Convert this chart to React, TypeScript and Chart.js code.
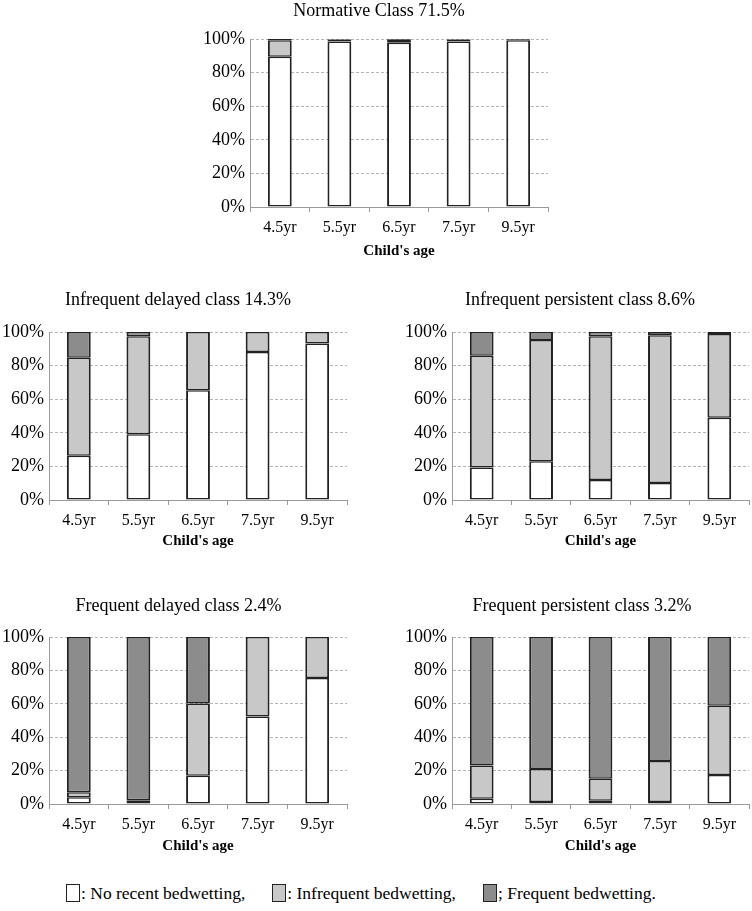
import React, { useEffect, useRef } from "react";
import { Chart, registerables } from "chart.js";

Chart.register(...registerables);
Chart.defaults.font.family = "'Liberation Serif', 'Times New Roman', serif";

// ---------- data ----------
const AGES = ["4.5yr", "5.5yr", "6.5yr", "7.5yr", "9.5yr"];
const Y_TICKS = [0, 20, 40, 60, 80, 100];
const X_TITLE = "Child's age";
const SERIES_NAMES = ["No recent bedwetting", "Infrequent bedwetting", "Frequent bedwetting"];
const LEGEND_TEXTS = [": No recent bedwetting,", ": Infrequent bedwetting,", "; Frequent bedwetting."];

const NORMATIVE_TITLE = "Normative Class 71.5%";
const NORMATIVE_NONE = [89.5, 98.5, 97.8, 98.5, 99.3];
const NORMATIVE_INFREQ = [9.7, 1.2, 1.7, 1.2, 0.5];
const NORMATIVE_FREQ = [0.8, 0.3, 0.5, 0.3, 0.2];

const INF_DELAYED_TITLE = "Infrequent delayed class 14.3%";
const INF_DELAYED_NONE = [26.4, 39.2, 65.4, 88.1, 93.2];
const INF_DELAYED_INFREQ = [58.3, 58.2, 34.6, 11.9, 6.8];
const INF_DELAYED_FREQ = [15.3, 2.6, 0, 0, 0];

const INF_PERSIST_TITLE = "Infrequent persistent class 8.6%";
const INF_PERSIST_NONE = [19.3, 23.1, 11.9, 10.1, 48.9];
const INF_PERSIST_INFREQ = [66.6, 72.1, 85.5, 87.9, 49.9];
const INF_PERSIST_FREQ = [14.1, 4.8, 2.6, 2.0, 1.2];

const FREQ_DELAYED_TITLE = "Frequent delayed class 2.4%";
const FREQ_DELAYED_NONE = [4.0, 1.2, 16.9, 52.4, 75.5];
const FREQ_DELAYED_INFREQ = [3.0, 1.0, 43.3, 47.6, 24.5];
const FREQ_DELAYED_FREQ = [93.0, 97.8, 39.8, 0, 0];

const FREQ_PERSIST_TITLE = "Frequent persistent class 3.2%";
const FREQ_PERSIST_NONE = [3.2, 1.2, 2.0, 1.2, 17.3];
const FREQ_PERSIST_INFREQ = [19.9, 19.7, 13.1, 24.5, 41.5];
const FREQ_PERSIST_FREQ = [76.9, 79.1, 84.9, 74.3, 41.2];

// ---------- styles ----------
const FILLS = ["#ffffff", "#c8c8c8", "#8c8c8c"];
const EDGE = "#222222";
const AXIS = "#9a9a9a";
const GRID = "#b5b5b5";

type Geo = {
  T: number; H: number;
  x0: number; x1: number; y0: number; y1: number;
  tcx: number; tcy: number;
};

const TITLE_SIZE = 18;
const TITLE_LH = TITLE_SIZE * 1.2;
const Y_AXIS_W = 48;

function Panel({ title, values, geo }: { title: string; values: number[][]; geo: Geo }) {
  const ref = useRef<HTMLCanvasElement>(null);
  const L = geo.x0 - Y_AXIS_W;
  const extra = Math.max(0, 2 * geo.tcx - L - geo.x1);
  const W = geo.x1 + extra - L;
  useEffect(() => {
    const { T, H, y0, y1, tcy } = geo;
    const tPadTop = Math.max(0, tcy - T - TITLE_LH / 2);
    const tPadBottom = y0 - T - tPadTop - TITLE_LH;
    const xH = T + H - y1;
    const chart = new Chart(ref.current as HTMLCanvasElement, {
      type: "bar",
      data: {
        labels: AGES,
        datasets: values.map((v, i) => ({
          label: SERIES_NAMES[i],
          data: v,
          backgroundColor: FILLS[i],
          borderColor: EDGE,
          borderWidth: { left: 2, right: 2, top: 1.5, bottom: 1.5 },
          borderSkipped: false,
          categoryPercentage: 1,
          barPercentage: 0.4,
        })),
      },
      options: {
        responsive: false,
        animation: false,
        layout: { padding: 0 },
        plugins: {
          legend: { display: false },
          tooltip: { enabled: false },
          title: {
            display: true,
            text: title,
            color: "#000",
            font: { size: TITLE_SIZE, weight: "normal", lineHeight: 1.2 },
            padding: { top: tPadTop, bottom: tPadBottom },
          },
        },
        scales: {
          x: {
            stacked: true,
            grid: {
              display: true,
              drawOnChartArea: false,
              drawTicks: true,
              tickLength: 5,
              color: AXIS,
              offset: true,
            },
            border: { display: true, color: AXIS, width: 1 },
            ticks: { color: "#000", font: { size: 16 }, padding: 6 },
            title: {
              display: true,
              text: X_TITLE,
              color: "#000",
              font: { size: 15, weight: "bold", lineHeight: 1.2 },
              padding: 0,
            },
            afterFit: (s: any) => {
              s.height = xH;
            },
          },
          y: {
            stacked: true,
            min: 0,
            max: 100,
            grid: { color: GRID, drawTicks: false, lineWidth: 1 },
            border: { display: true, color: AXIS, width: 1, dash: [3, 2] },
            ticks: {
              color: "#000",
              font: { size: 18 },
              padding: 5,
              callback: (v: any) => v + "%",
            },
            afterBuildTicks: (s: any) => {
              s.ticks = Y_TICKS.map((v) => ({ value: v }));
            },
            afterFit: (s: any) => {
              s.width = Y_AXIS_W;
            },
          },
          spacer: {
            type: "linear",
            position: "right",
            display: true,
            grid: { display: false, drawTicks: false },
            border: { display: false },
            ticks: { display: false },
            afterFit: (s: any) => {
              s.width = extra;
            },
          },
        },
      } as any,
    });
    return () => chart.destroy();
  }, []);
  return (
    <canvas
      ref={ref}
      width={W}
      height={geo.H}
      style={{ position: "absolute", left: L, top: geo.T }}
    />
  );
}

const PANELS: { title: string; values: number[][]; geo: Geo }[] = [
  {
    title: NORMATIVE_TITLE,
    values: [NORMATIVE_NONE, NORMATIVE_INFREQ, NORMATIVE_FREQ],
    geo: { T: 0, H: 260, x0: 250, x1: 548, y0: 39, y1: 207, tcx: 379, tcy: 10.8 },
  },
  {
    title: INF_DELAYED_TITLE,
    values: [INF_DELAYED_NONE, INF_DELAYED_INFREQ, INF_DELAYED_FREQ],
    geo: { T: 289, H: 261, x0: 49, x1: 347, y0: 332, y1: 500, tcx: 178, tcy: 300 },
  },
  {
    title: INF_PERSIST_TITLE,
    values: [INF_PERSIST_NONE, INF_PERSIST_INFREQ, INF_PERSIST_FREQ],
    geo: { T: 289, H: 261, x0: 452, x1: 749, y0: 332, y1: 500, tcx: 580, tcy: 300 },
  },
  {
    title: FREQ_DELAYED_TITLE,
    values: [FREQ_DELAYED_NONE, FREQ_DELAYED_INFREQ, FREQ_DELAYED_FREQ],
    geo: { T: 595, H: 260, x0: 49, x1: 347, y0: 637, y1: 804, tcx: 178.5, tcy: 606 },
  },
  {
    title: FREQ_PERSIST_TITLE,
    values: [FREQ_PERSIST_NONE, FREQ_PERSIST_INFREQ, FREQ_PERSIST_FREQ],
    geo: { T: 595, H: 260, x0: 452, x1: 749, y0: 637, y1: 804, tcx: 582, tcy: 606 },
  },
];

export default function App() {
  return (
    <div
      style={{
        position: "absolute",
        left: 0,
        top: 0,
        width: 752,
        height: 911,
        background: "#fff",
        overflow: "hidden",
      }}
    >
      {PANELS.map((p, i) => (
        <Panel key={i} title={p.title} values={p.values} geo={p.geo} />
      ))}
      <div
        style={{
          position: "absolute",
          left: 66,
          top: 882,
          height: 22,
          display: "flex",
          alignItems: "center",
          fontFamily: "'Liberation Serif', 'Times New Roman', serif",
          fontSize: 17.5,
          color: "#000",
          whiteSpace: "nowrap",
        }}
      >
        {LEGEND_TEXTS.map((t, i) => (
          <div
            key={i}
            style={{ display: "flex", alignItems: "center", marginLeft: i === 0 ? 0 : 27 }}
          >
            <span
              style={{
                display: "inline-block",
                width: 12,
                height: 16,
                background: FILLS[i],
                border: `1.5px solid ${EDGE}`,
                marginRight: 1,
              }}
            />
            <span>{t}</span>
          </div>
        ))}
      </div>
    </div>
  );
}
